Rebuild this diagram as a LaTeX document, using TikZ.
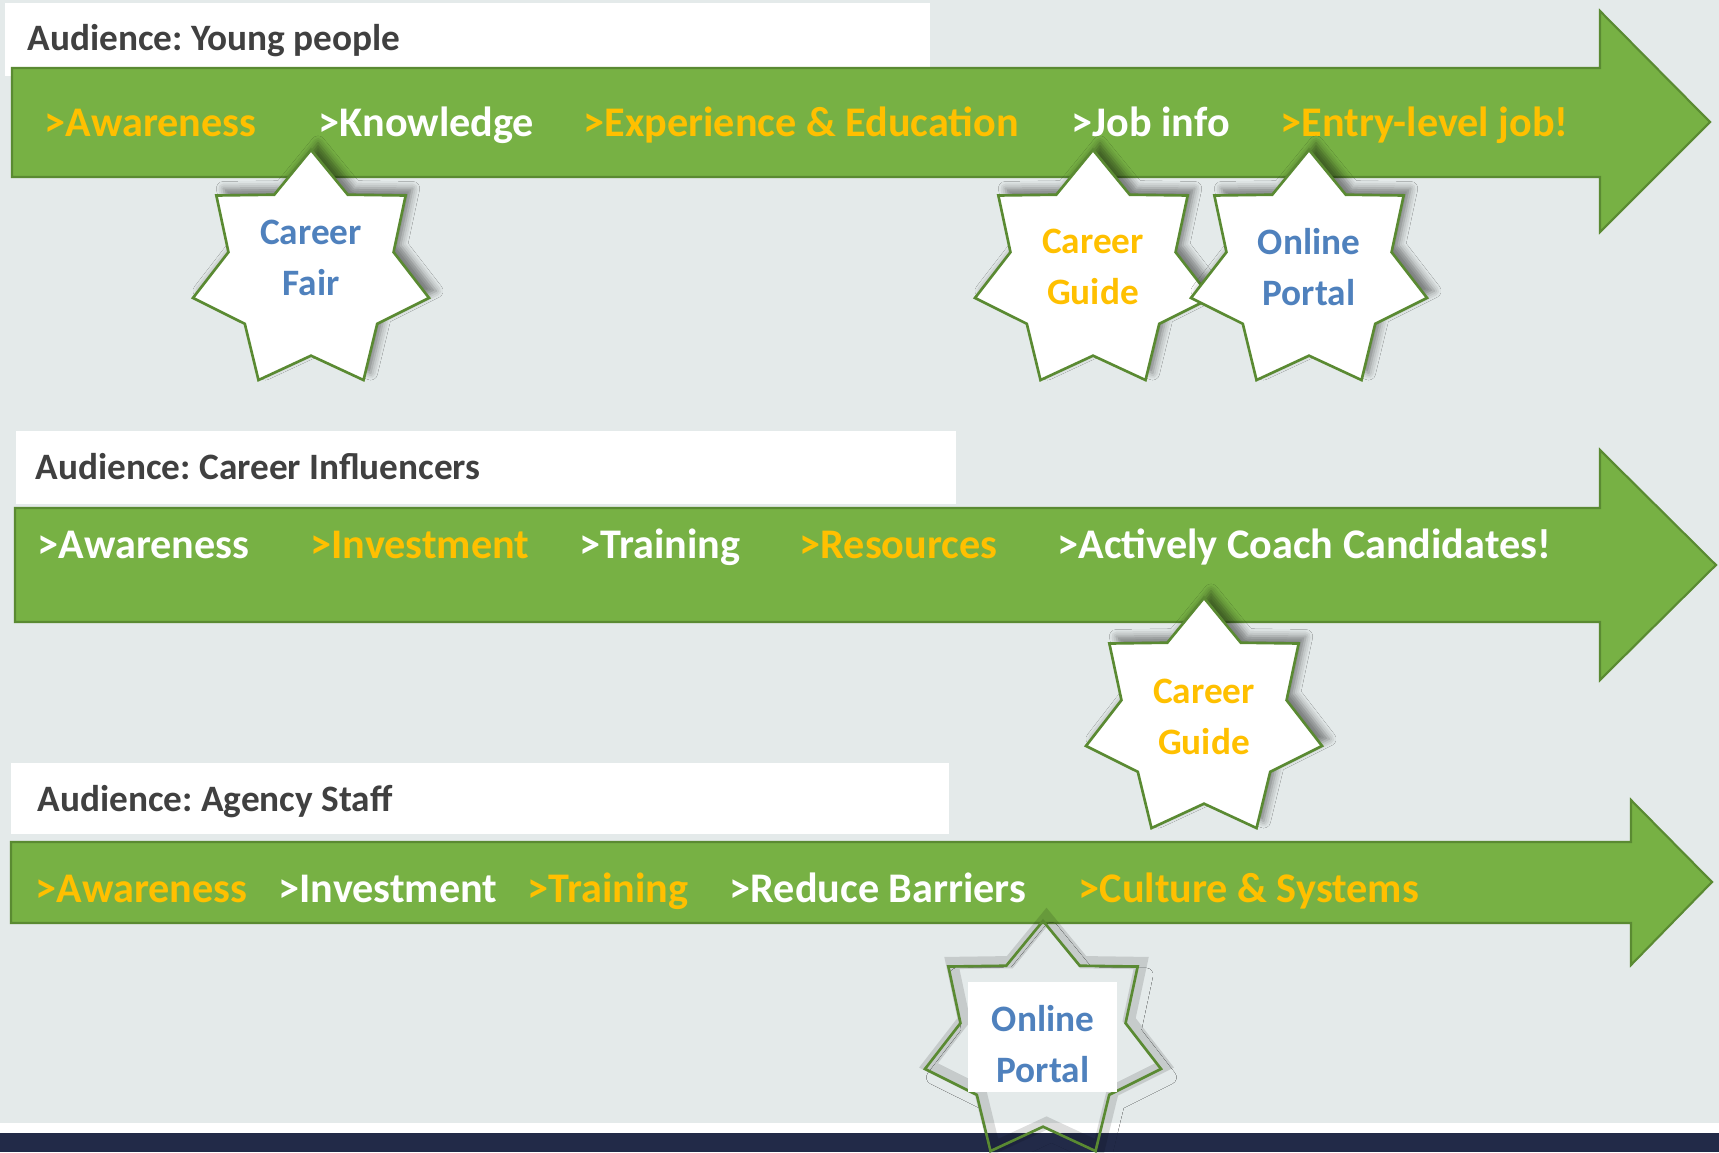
\documentclass[tikz,border=0pt]{standalone}
\usepackage{fontspec}
\setmainfont{Carlito}
\usetikzlibrary{shapes.geometric,shadows.blur}
\definecolor{bgcol}{HTML}{E4EAEA}
\definecolor{trackgreen}{HTML}{77B144}
\definecolor{trackedge}{HTML}{5A8A32}
\definecolor{stageorange}{HTML}{FFC000}
\definecolor{toolblue}{HTML}{4F81BD}
\definecolor{labelgrey}{HTML}{404040}
\definecolor{navybar}{HTML}{222A48}
\frenchspacing
\begin{document}
\begin{tikzpicture}[x=0.01cm,y=-0.01cm,
    labelbox/.style={fill=white},
    audience/.style={anchor=base west,inner sep=0pt,text=labelgrey,font=\fontsize{10.6}{12}\bfseries},
    track/.style={fill=trackgreen,draw=trackedge,line width=0.6pt,line join=miter},
    wstage/.style={anchor=base west,inner sep=0pt,text=white,font=\fontsize{12}{14}\bfseries},
    ystage/.style={wstage,text=stageorange},
    burst/.style={star,star points=7,star point ratio=1.43,minimum size=2.42cm,inner sep=0pt,
      draw=trackedge,line width=0.75pt,fill=white,
      blur shadow={shadow xshift=2pt,shadow yshift=2pt,shadow blur radius=2pt,shadow opacity=45}},
    bluetxt/.style={align=center,inner sep=0pt,text=toolblue,font=\fontsize{10.6}{14.3}\bfseries},
    orangetxt/.style={bluetxt,text=stageorange}]
    \useasboundingbox (0,0) rectangle (1719,1152);
    \fill[bgcol] (0,0) rectangle (1719,1152);
    \begin{scope}
      \fill[labelbox] (5,3) rectangle (930,76);
      \node[audience] (young) at (27,51) {Audience: Young people};
      \filldraw[track] (12,68) -- (1600,68) -- (1600,11) -- (1710,122) -- (1600,232) -- (1600,177) -- (12,177) -- cycle;
      \node[ystage] (aware1) at (44,137) {>Awareness};
      \node[wstage] (know1) at (318,137) {>Knowledge};
      \node[ystage] (exper1) at (583,137) {>Experience \& Education};
      \node[wstage] (job1) at (1071,137) {>Job info};
      \node[ystage] (entry1) at (1280,137) {>Entry-level job!};
      \node[burst] (fair) at (311,271) {};
      \node[bluetxt] (fairtxt) at (311,258) {Career\\Fair};
      \node[burst] (guide1) at (1093,271) {};
      \node[orangetxt] (guide1txt) at (1093,267) {Career\\Guide};
      \node[burst] (portal1) at (1309,271) {};
      \node[bluetxt] (portal1txt) at (1309,267) {Online\\Portal};
    \end{scope}
    \begin{scope}
      \fill[labelbox] (16,431) rectangle (956,504);
      \node[audience] (influ) at (35,479) {Audience: Career Influencers};
      \filldraw[track] (15,508) -- (1600,508) -- (1600,450) -- (1716,565) -- (1600,680) -- (1600,622) -- (15,622) -- cycle;
      \node[wstage] (aware2) at (37,558) {>Awareness};
      \node[ystage] (invest2) at (310,558) {>Investment};
      \node[wstage] (train2) at (579,558) {>Training};
      \node[ystage] (resour2) at (799,558) {>Resources};
      \node[wstage] (coach2) at (1057,558) {>Actively Coach Candidates!};
      \node[burst] (guide2) at (1204,719) {};
      \node[orangetxt] (guide2txt) at (1204,717) {Career\\Guide};
    \end{scope}
    \begin{scope}
      \fill[labelbox] (11,763) rectangle (949,834);
      \node[audience] (agency) at (37,811) {Audience: Agency Staff};
      \filldraw[track] (11,842) -- (1631,842) -- (1631,800) -- (1712,882) -- (1631,965) -- (1631,923) -- (11,923) -- cycle;
      \node[ystage] (aware3) at (35,902) {>Awareness};
      \node[wstage] (invest3) at (278,902) {>Investment};
      \node[ystage] (train3) at (527,902) {>Training};
      \node[wstage] (reduce3) at (729,902) {>Reduce Barriers};
      \node[ystage] (cult3) at (1078,902) {>Culture \& Systems};
    \end{scope}
    \fill[white] (0,1123) rectangle (1719,1133);
    \fill[navybar] (0,1133) rectangle (1719,1152);
    \node[burst,fill=none,blur shadow={shadow opacity=0},
      preaction={draw=black,draw opacity=.13,line width=3.5pt,transform canvas={xshift=1pt,yshift=1pt}}]
      (portal3) at (1043,1042) {};
    \fill[white] (968,982) rectangle (1117,1092);
    \node[bluetxt] (portal3txt) at (1043,1044) {Online\\Portal};
  \end{tikzpicture}
\end{document}
